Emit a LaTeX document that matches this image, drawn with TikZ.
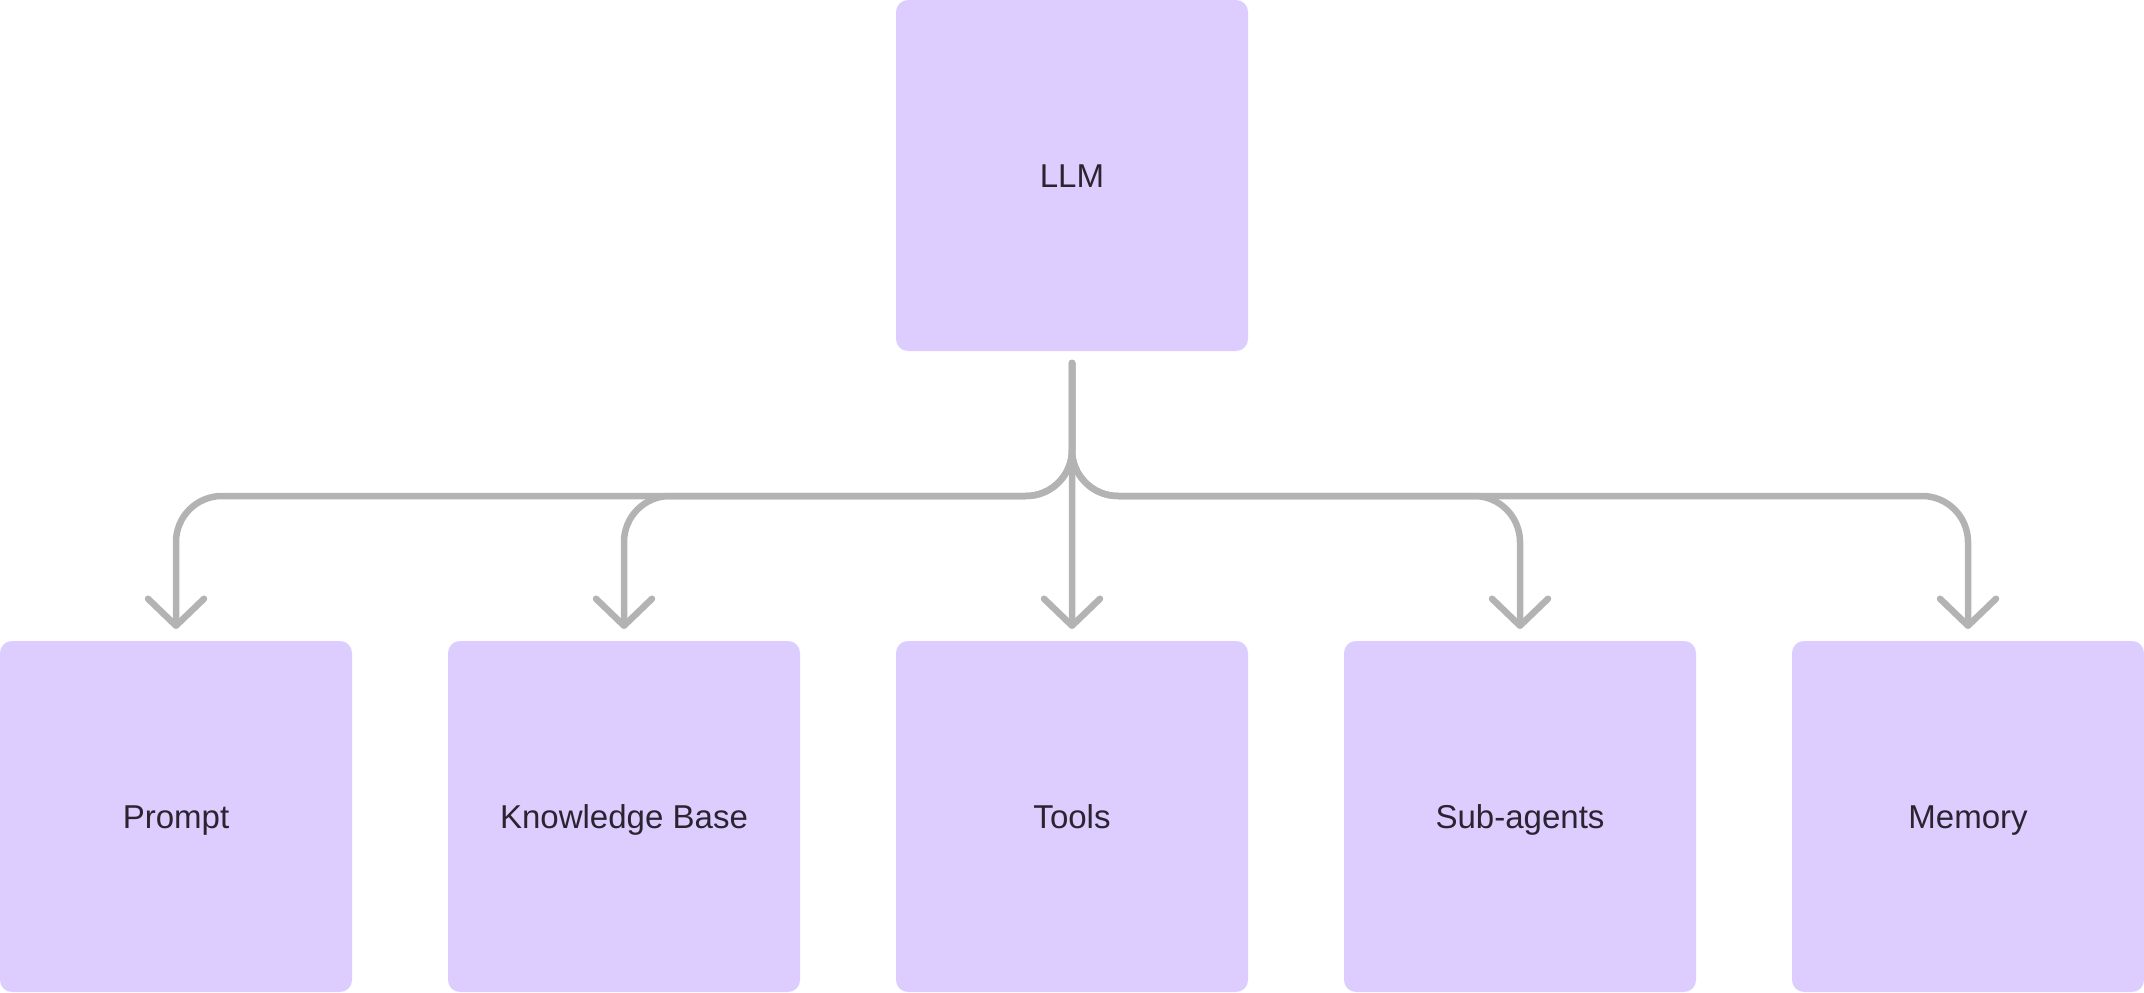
\documentclass[tikz,border=0pt]{standalone}
\usepackage{fontspec}
\setmainfont{Liberation Sans}
\usetikzlibrary{arrows.meta, positioning}
\definecolor{boxfill}{RGB}{221,205,255}
\definecolor{linkgray}{RGB}{179,179,179}
\definecolor{labeltext}{RGB}{42,36,48}
\tikzset{
    block/.style = {rectangle, rounded corners=0.12cm, fill=boxfill, text=labeltext,
                    minimum width=3.52cm, minimum height=3.51cm, inner sep=0pt, outer sep=0pt,
                    text height=6.7pt, text depth=0pt,
                    font=\fontsize{9.4}{11}\selectfont},
    link/.style = {draw=linkgray, line width=0.065cm, line cap=round, rounded corners=0.46cm,
                   -{Straight Barb[length=0.27cm, width=0.56cm, round]}, shorten >=0.12cm}
    }

\begin{document}
\begin{tikzpicture}
    \useasboundingbox (0,0) rectangle (21.44,9.92);

    \node (llm) at (10.72,8.165) [block] {LLM};

    \node (prompt) at (1.76,1.755) [block] {Prompt};
    \node (kb)     [block, right=0.96cm of prompt] {Knowledge Base};
    \node (tools)  [block, right=0.96cm of kb]     {Tools};
    \node (sub)    [block, right=0.96cm of tools]  {Sub-agents};
    \node (memory) [block, right=0.96cm of sub]    {Memory};

    \coordinate (stem) at ([yshift=-0.12cm]llm.south);
    \coordinate (bus)  at (10.72,4.96);

    \draw[link] (stem) -- (bus) -| (prompt.north);
    \draw[link] (stem) -- (bus) -| (kb.north);
    \draw[link] (stem) -- (tools.north);
    \draw[link] (stem) -- (bus) -| (sub.north);
    \draw[link] (stem) -- (bus) -| (memory.north);
\end{tikzpicture}
\end{document}
